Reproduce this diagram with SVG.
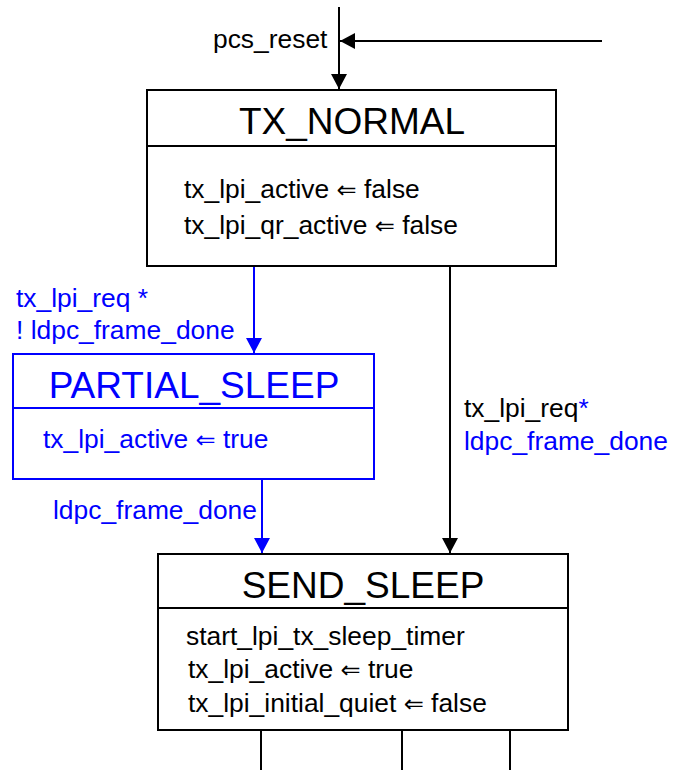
<svg xmlns="http://www.w3.org/2000/svg" width="673" height="770" viewBox="0 0 673 770">
<defs>
<marker id="ab" markerWidth="16" markerHeight="16" refX="15" refY="8" orient="auto" markerUnits="userSpaceOnUse"><path d="M0,0 L15,8 L0,16 Z" fill="#000"/></marker>
<marker id="au" markerWidth="16" markerHeight="16" refX="15" refY="8" orient="auto" markerUnits="userSpaceOnUse"><path d="M0,0 L15,8 L0,16 Z" fill="#0000ff"/></marker>
</defs>
<style>
text{font-family:"Liberation Sans",Arial,sans-serif;font-size:26.4px;fill:#000}
.t{font-size:37px;text-anchor:middle}
.b{fill:#0000ff}
.ar{font-family:"DejaVu Sans",sans-serif;font-size:24px}
.box{fill:#fff;stroke:#000;stroke-width:2}
.boxb{fill:#fff;stroke:#0000ff;stroke-width:2}
.l{stroke:#000;stroke-width:2;fill:none}
.lb{stroke:#0000ff;stroke-width:2;fill:none}
</style>
<rect width="673" height="770" fill="#fff"/>
<g id="connectors">
<line class="l" x1="339" y1="7" x2="339" y2="89" marker-end="url(#ab)"/>
<line class="l" x1="602" y1="41" x2="340" y2="41" marker-end="url(#ab)"/>
<line class="lb" x1="254" y1="266" x2="254" y2="353" marker-end="url(#au)"/>
<line class="lb" x1="262" y1="479" x2="262" y2="553" marker-end="url(#au)"/>
<line class="l" x1="450" y1="266" x2="450" y2="553" marker-end="url(#ab)"/>
<line class="l" x1="261" y1="730" x2="261" y2="770"/>
<line class="l" x1="402" y1="730" x2="402" y2="770"/>
<line class="l" x1="510" y1="730" x2="510" y2="770"/>
<text x="213" y="48">pcs_reset</text>
<text class="b" x="16" y="307">tx_lpi_req *</text>
<text class="b" x="16" y="339">! ldpc_frame_done</text>
<text class="b" x="53" y="519">ldpc_frame_done</text>
<text x="464" y="417">tx_lpi_req<tspan class="b">*</tspan></text>
<text class="b" x="464" y="450">ldpc_frame_done</text>
</g>
<g id="TX_NORMAL">
<rect class="box" x="147" y="90" width="409" height="176"/>
<line class="l" x1="147" y1="146" x2="556" y2="146"/>
<text class="t" x="352" y="134">TX_NORMAL</text>
<text x="184" y="198">tx_lpi_active <tspan class="ar">⇐</tspan> false</text>
<text x="184" y="234">tx_lpi_qr_active <tspan class="ar">⇐</tspan> false</text>
</g>
<g id="PARTIAL_SLEEP">
<rect class="boxb" x="13" y="354" width="361" height="125"/>
<line class="lb" x1="13" y1="408" x2="374" y2="408"/>
<text class="t b" x="194" y="398">PARTIAL_SLEEP</text>
<text class="b" x="43" y="448">tx_lpi_active <tspan class="ar b">⇐</tspan> true</text>
</g>
<g id="SEND_SLEEP">
<rect class="box" x="158" y="554" width="410" height="176"/>
<line class="l" x1="158" y1="608" x2="568" y2="608"/>
<text class="t" x="363" y="598">SEND_SLEEP</text>
<text x="186" y="645">start_lpi_tx_sleep_timer</text>
<text x="188" y="678">tx_lpi_active <tspan class="ar">⇐</tspan> true</text>
<text x="188" y="712">tx_lpi_initial_quiet <tspan class="ar">⇐</tspan> false</text>
</g>
</svg>
